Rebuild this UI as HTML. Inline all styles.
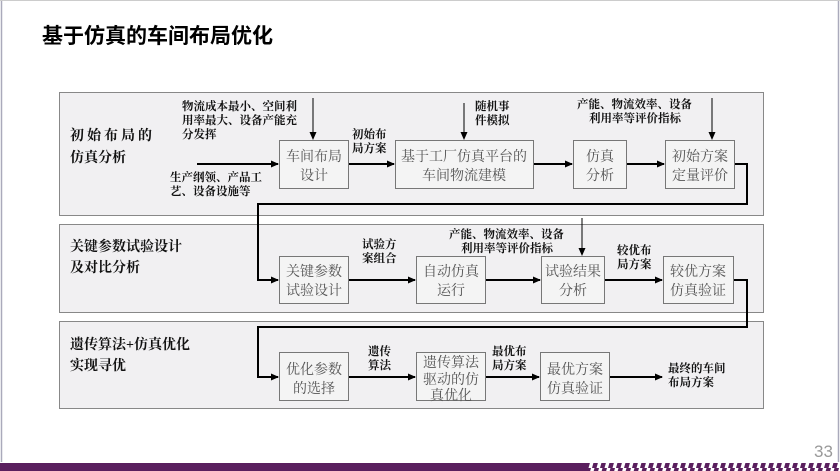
<!DOCTYPE html>
<html><head><meta charset="utf-8"><style>
body{margin:0;width:840px;height:471px;overflow:hidden;background:#fff}
svg{display:block}
text{font-family:"Liberation Serif","Noto Serif CJK SC",serif;fill:#111}
.b{font-family:"Liberation Sans","Noto Sans CJK SC",sans-serif;font-weight:bold}
.s{font-size:11.5px;font-weight:bold}
</style></head><body>
<svg width="840" height="471" viewBox="0 0 840 471" xmlns="http://www.w3.org/2000/svg">
<defs>
<marker id="a" markerWidth="8" markerHeight="8" refX="7" refY="4" orient="auto" markerUnits="userSpaceOnUse"><path d="M0,0.5 L8,4 L0,7.5z" fill="#000"/></marker>
<pattern id="h" width="8" height="9" patternUnits="userSpaceOnUse"><rect width="8" height="9" fill="#fff"/><path d="M0,9 L2.5,0 L7,0 L4.5,9z" fill="#5a1f5e"/></pattern>
</defs>
<line x1="1.5" y1="0" x2="1.5" y2="462" stroke="#aab" stroke-width="1.5"/>
<line x1="838.5" y1="0" x2="838.5" y2="462" stroke="#aab" stroke-width="1.5"/>
<line x1="0" y1="0.5" x2="840" y2="0.5" stroke="#ccc"/>
<text x="42" y="43" class="b" style="font-size:21px;fill:#000">基于仿真的车间布局优化</text>
<g fill="#f1f0f2" stroke="#888" stroke-width="1">
<rect x="59.5" y="92.5" width="704" height="123"/>
<rect x="59.5" y="224.5" width="704" height="88"/>
<rect x="59.5" y="321.5" width="704" height="87"/>
</g>
<g class="b" style="font-size:14px">
<text x="70" y="140" letter-spacing="3">初始布局的</text><text x="70" y="162">仿真分析</text>
<text x="70" y="251">关键参数试验设计</text><text x="70" y="272">及对比分析</text>
<text x="70" y="349">遗传算法+仿真优化</text><text x="70" y="370">实现寻优</text>
</g>
<g fill="#f4f4f4" stroke="#777" stroke-width="1">
<rect x="279.5" y="140.5" width="69" height="48"/>
<rect x="395.5" y="140.5" width="138" height="48"/>
<rect x="573.5" y="140.5" width="53" height="48"/>
<rect x="665.5" y="140.5" width="69" height="48"/>
<rect x="279.5" y="256.5" width="69" height="47"/>
<rect x="416.5" y="256.5" width="69" height="47"/>
<rect x="541.5" y="256.5" width="63" height="47"/>
<rect x="663.5" y="256.5" width="70" height="47"/>
<rect x="279.5" y="352.5" width="69" height="48"/>
<rect x="416.5" y="352.5" width="69" height="48"/>
<rect x="540.5" y="352.5" width="69" height="48"/>
</g>
<g style="font-size:14px" text-anchor="middle">
<text x="314" y="161" style="fill:#555">车间布局</text><text x="314" y="180" style="fill:#555">设计</text>
<text x="464" y="161" style="fill:#555">基于工厂仿真平台的</text><text x="464" y="180" style="fill:#555">车间物流建模</text>
<text x="600" y="161" style="fill:#555">仿真</text><text x="600" y="180" style="fill:#555">分析</text>
<text x="700" y="161" style="fill:#555">初始方案</text><text x="700" y="180" style="fill:#555">定量评价</text>
<text x="314" y="276" style="fill:#555">关键参数</text><text x="314" y="295" style="fill:#555">试验设计</text>
<text x="451" y="276" style="fill:#555">自动仿真</text><text x="451" y="295" style="fill:#555">运行</text>
<text x="573" y="276" style="fill:#555">试验结果</text><text x="573" y="295" style="fill:#555">分析</text>
<text x="698" y="276" style="fill:#555">较优方案</text><text x="698" y="295" style="fill:#555">仿真验证</text>
<text x="314" y="374" style="fill:#555">优化参数</text><text x="314" y="393" style="fill:#555">的选择</text>
<text x="451" y="367" style="fill:#555">遗传算法</text><text x="451" y="384" style="fill:#555">驱动的仿</text><text x="451" y="400" style="fill:#555">真优化</text>
<text x="575" y="374" style="fill:#555">最优方案</text><text x="575" y="393" style="fill:#555">仿真验证</text>
</g>
<g class="s">
<text x="182" y="110">物流成本最小、空间利</text><text x="182" y="124">用率最大、设备产能充</text><text x="182" y="138">分发挥</text>
<text x="170" y="181">生产纲领、产品工</text><text x="170" y="195">艺、设备设施等</text>
<text x="352" y="138">初始布</text><text x="352" y="152">局方案</text>
<text x="475" y="110">随机事</text><text x="475" y="124">件模拟</text>
<text x="577" y="108">产能、物流效率、设备</text><text x="589" y="122">利用率等评价指标</text>
<text x="362" y="248">试验方</text><text x="362" y="262">案组合</text>
<text x="449" y="238">产能、物流效率、设备</text><text x="461" y="252">利用率等评价指标</text>
<text x="617" y="254">较优布</text><text x="617" y="268">局方案</text>
<text x="368" y="355">遗传</text><text x="368" y="369">算法</text>
<text x="492" y="355">最优布</text><text x="492" y="369">局方案</text>
<text x="668" y="372">最终的车间</text><text x="668" y="386">布局方案</text>
</g>
<g stroke="#000" stroke-width="2" fill="none">
<line x1="197" y1="164" x2="278" y2="164" marker-end="url(#a)"/>
<line x1="349" y1="164" x2="394" y2="164" marker-end="url(#a)"/>
<line x1="534" y1="164" x2="572" y2="164" marker-end="url(#a)"/>
<line x1="627" y1="164" x2="664" y2="164" marker-end="url(#a)"/>
<polyline points="735,164 747,164 747,204 258,204 258,280 278,280" marker-end="url(#a)"/>
<line x1="349" y1="280" x2="415" y2="280" marker-end="url(#a)"/>
<line x1="486" y1="280" x2="540" y2="280" marker-end="url(#a)"/>
<line x1="605" y1="280" x2="662" y2="280" marker-end="url(#a)"/>
<polyline points="734,280 747,280 747,327 258,327 258,377 278,377" marker-end="url(#a)"/>
<line x1="349" y1="377" x2="415" y2="377" marker-end="url(#a)"/>
<line x1="486" y1="377" x2="539" y2="377" marker-end="url(#a)"/>
<line x1="610" y1="377" x2="662" y2="377" marker-end="url(#a)"/>
</g>
<g stroke="#000" stroke-width="1" fill="none">
<line x1="313" y1="98" x2="313" y2="139" marker-end="url(#a)"/>
<line x1="464" y1="103" x2="464" y2="139" marker-end="url(#a)"/>
<line x1="712" y1="98" x2="712" y2="139" marker-end="url(#a)"/>
<line x1="582" y1="218" x2="582" y2="255" marker-end="url(#a)"/>
</g>
<text x="814" y="457" style="font-family:'Liberation Sans',sans-serif;font-size:17px;fill:#999">33</text>
<rect x="0" y="463" width="588" height="8" fill="#5a1f5e"/>
<rect x="588" y="463" width="252" height="8" fill="url(#h)"/>
</svg>
</body></html>
